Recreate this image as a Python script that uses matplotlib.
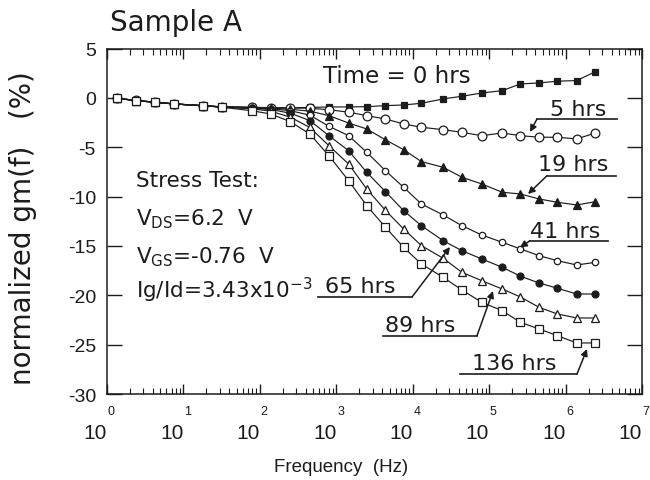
import numpy as np
import matplotlib
matplotlib.use("Agg")
import matplotlib.pyplot as plt
from matplotlib.ticker import LogLocator, NullFormatter

plt.rcParams['axes.unicode_minus'] = False
plt.rcParams['font.family'] = ['DejaVu Sans']
plt.rcParams['mathtext.fontset'] = 'dejavusans'

INK = '#1c1c1c'

# ---------------- data ----------------
freq = [1.37, 2.4, 4.3, 7.6, 18, 32, 78, 138, 250, 450, 800, 1450, 2500, 4400,
        7600, 13000, 25000, 44000, 80000, 148000, 257000, 450000, 780000,
        1.4e6, 2.45e6]

g_0h = [-0.05, -0.25, -0.45, -0.60, -0.80, -0.90, -0.95, -1.00, -1.00, -0.97,
        -0.92, -0.92, -0.89, -0.79, -0.72, -0.55, -0.11, 0.16, 0.49, 0.73,
        1.41, 1.51, 1.69, 1.75, 2.65]
g_5h = [-0.05, -0.26, -0.45, -0.61, -0.80, -0.91, -0.97, -1.00, -1.02, -1.05,
        -1.20, -1.45, -1.80, -2.14, -2.64, -2.98, -3.22, -3.49, -3.83, -3.56,
        -3.83, -3.99, -3.99, -4.16, -3.56]
g_19h = [-0.05, -0.27, -0.45, -0.62, -0.80, -0.92, -1.00, -1.05, -1.15, -1.35,
         -1.80, -2.55, -3.15, -4.25, -5.25, -6.46, -7.03, -8.04, -8.72, -9.56,
         -9.74, -10.24, -10.58, -10.85, -10.52]
g_41h = [-0.05, -0.27, -0.45, -0.62, -0.80, -0.92, -1.00, -1.10, -1.30, -1.75,
         -2.88, -3.83, -5.51, -7.38, -9.06, -10.75, -11.86, -12.95, -13.89,
         -14.63, -15.30, -15.99, -16.49, -16.93, -16.66]
g_65h = [-0.05, -0.28, -0.45, -0.62, -0.80, -0.93, -1.05, -1.18, -1.55, -2.30,
         -3.83, -5.35, -7.54, -9.50, -11.43, -12.95, -14.47, -15.48, -16.32,
         -17.16, -18.07, -18.75, -19.29, -19.87, -19.87]
g_89h = [-0.05, -0.28, -0.45, -0.62, -0.80, -0.94, -1.10, -1.35, -1.95, -3.00,
         -4.84, -6.70, -9.23, -11.40, -13.28, -14.97, -16.25, -17.67, -18.52,
         -19.36, -20.17, -21.22, -21.89, -22.30, -22.30]
g_136h = [-0.05, -0.28, -0.45, -0.62, -0.79, -0.95, -1.30, -1.63, -2.41, -3.66,
          -5.86, -8.39, -10.92, -13.11, -15.14, -16.83, -18.18, -19.46, -20.71,
          -21.56, -22.74, -23.41, -24.09, -24.83, -24.83]

series_names = ['0 hrs', '5 hrs', '19 hrs', '41 hrs', '65 hrs', '89 hrs', '136 hrs']
series_vals = [g_0h, g_5h, g_19h, g_41h, g_65h, g_89h, g_136h]
decades = [0, 1, 2, 3, 4, 5, 6, 7]
yticks = [5, 0, -5, -10, -15, -20, -25, -30]

# marker styles (marker, filled, size)
styles = [('s', True, 5.0), ('o', False, 6.3), ('^', True, 5.5), ('o', False, 4.6),
          ('o', True, 5.0), ('^', False, 5.6), ('s', False, 6.2)]

# ---------------- figure ----------------
W, H = 650, 481
fig = plt.figure(figsize=(W / 100, H / 100), dpi=100)
AX_L, AX_R, AX_T, AX_B = 107, 642, 49.5, 395
ax = fig.add_axes([AX_L / W, 1 - AX_B / H, (AX_R - AX_L) / W, (AX_B - AX_T) / H])

for name, vals, (mk, filled, ms) in zip(series_names, series_vals, styles):
    ax.plot(freq, vals, color=INK, lw=0.85, marker=mk, ms=ms,
            mfc=INK if filled else 'white', mec=INK, mew=0.9, label=name)

ax.set_xscale('log')
ax.set_xlim(10.0 ** decades[0], 10.0 ** decades[-1])
ax.set_ylim(-30, 5)
ax.set_yticks(yticks)
ax.set_yticklabels([str(v) for v in yticks], fontfamily='Liberation Sans')
ax.set_xticks([10.0 ** d for d in decades])
ax.set_xticklabels(['10'] * len(decades), ha='right', fontfamily='Liberation Sans')
ax.xaxis.set_minor_locator(LogLocator(base=10, subs=np.arange(2, 10), numticks=100))
ax.xaxis.set_minor_formatter(NullFormatter())

ax.tick_params(axis='x', which='major', direction='in', length=7, width=1.0,
               top=True, pad=21, labelsize=15, colors=INK)
ax.tick_params(axis='x', which='minor', direction='in', length=4, width=0.8,
               top=True, colors=INK)
ax.tick_params(axis='y', which='major', direction='in', length=11, width=1.0,
               right=True, pad=8, labelsize=14, colors=INK)
for sp in ax.spines.values():
    sp.set_linewidth(1.1)
    sp.set_color(INK)

# superscript exponents of the decade labels
for d in decades:
    ax.annotate(str(d), xy=(10.0 ** d, 0), xycoords=('data', 'axes fraction'),
                xytext=(0.6, -12.5), textcoords='offset points', ha='left',
                va='center', fontsize=9, family='Liberation Sans', color=INK,
                annotation_clip=False)


def P(px, py):
    """reference-pixel layout position -> data coordinates"""
    x = 10 ** ((px - AX_L) / (AX_R - AX_L) * 7)
    y = 5 - (py - AX_T) / (AX_B - AX_T) * 35
    return x, y


# axis labels / title
fig.text(110 / W, 1 - 31 / H, 'Sample A', ha='left', va='baseline',
         fontsize=20, color=INK)
fig.text(23 / W, 1 - 228 / H, 'normalized gm(f)   (%)', rotation=90,
         ha='center', va='center', fontsize=20, color=INK)
fig.text(341 / W, 1 - 472 / H, 'Frequency  (Hz)', ha='center', va='baseline',
         fontsize=13.5, family='Liberation Sans', color=INK)

# stress conditions block
block = [('Stress Test:', 136, 186.7),
         (r'V$_{\mathrm{DS}}$=6.2  V', 136, 225),
         (r'V$_{\mathrm{GS}}$=-0.76  V', 136, 263.3),
         (r'Ig/Id=3.43x10$^{\mathrm{-3}}$', 136, 298.3)]
for txt, px, py in block:
    ax.text(*P(px, py), txt, ha='left', va='baseline', fontsize=15.5, color=INK)

# time labels
ax.text(*P(323, 83), 'Time = 0 hrs', ha='left', va='baseline', fontsize=16.5, color=INK)

labels = [
    ('5 hrs', (550, 116), (537, 617, 120), (537, 120), (530, 133)),
    ('19 hrs', (538, 171), (547, 616, 176.7), (547, 176.7), (528, 195)),
    ('41 hrs', (530, 237.7), (530, 608, 241.7), (530, 241.7), (520, 248.5)),
    ('65 hrs', (325, 293), (318, 412, 298), (412, 298), (450, 248)),
    ('89 hrs', (385, 331.7), (383, 477, 336.7), (477, 336.7), (493, 292)),
    ('136 hrs', (472, 370), (460, 577, 375), (577, 375), (587, 350)),
]
for txt, tpos, (ux0, ux1, uy), tail, tip in labels:
    ax.text(*P(*tpos), txt, ha='left', va='baseline', fontsize=16, color=INK)
    a, b = P(ux0, uy), P(ux1, uy)
    ax.plot([a[0], b[0]], [a[1], b[1]], color=INK, lw=1.2, clip_on=False)
    ax.annotate('', xy=P(*tip), xytext=P(*tail),
                arrowprops=dict(arrowstyle='-|>', color=INK, lw=1.1,
                                mutation_scale=10, shrinkA=0, shrinkB=0))

fig.savefig('out.png', dpi=100, facecolor='white')
